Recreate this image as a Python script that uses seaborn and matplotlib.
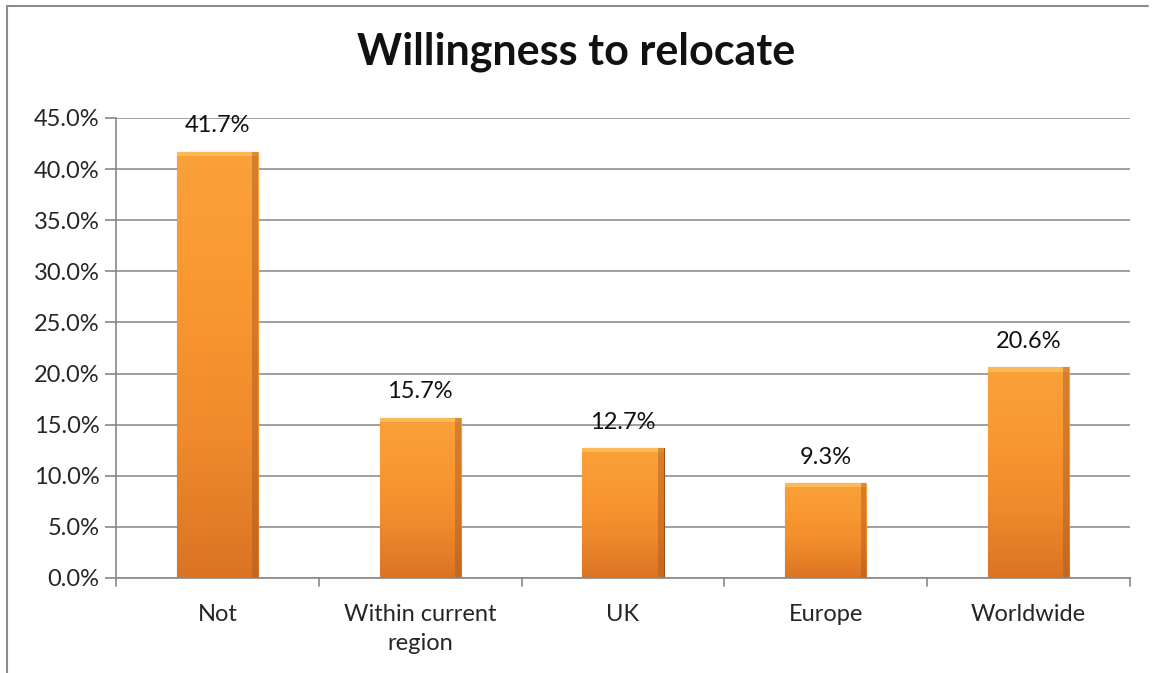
import numpy as np
import pandas as pd
import matplotlib.pyplot as plt
import seaborn as sns
from matplotlib.lines import Line2D
from matplotlib.colors import LinearSegmentedColormap

categories = ['Not', 'Within current\nregion', 'UK', 'Europe', 'Worldwide']
shares = [41.7, 15.7, 12.7, 9.3, 20.6]
y_ticks = [0, 5, 10, 15, 20, 25, 30, 35, 40, 45]

sns.set_style('white')
plt.rcParams['font.family'] = ['Lato', 'DejaVu Sans']

df = pd.DataFrame({'where': categories, 'share': shares})

fig = plt.figure(figsize=(11.52, 6.73), dpi=100)
ax = fig.add_axes([116 / 1152, 1 - 578 / 673, (1130 - 116) / 1152, (578 - 118) / 673])

sns.barplot(data=df, x='where', y='share', color='#F7952F', width=0.4, ax=ax,
            edgecolor='#9C4E16', linewidth=0.8)

# gradient fill like the Excel bevel bars
grad = LinearSegmentedColormap.from_list('og', ['#DA7424', '#F08A2C', '#F99831', '#FBA13A'])
g = np.linspace(0, 1, 256).reshape(-1, 1)
for p in ax.patches:
    x0, y0 = p.get_x(), p.get_y()
    w, h = p.get_width(), p.get_height()
    im = ax.imshow(g, cmap=grad, aspect='auto', origin='lower',
                   extent=[x0, x0 + w, y0, y0 + h], zorder=p.get_zorder() + 0.1)
    im.set_clip_path(p)
    # light top bevel and darker right edge
    ax.fill_between([x0, x0 + w], y0 + h - 0.4, y0 + h, color='#FDC060', alpha=0.8,
                    zorder=p.get_zorder() + 0.2, linewidth=0)
    ax.fill_between([x0 + w * 0.93, x0 + w], y0, y0 + h, color='#A8561C', alpha=0.45,
                    zorder=p.get_zorder() + 0.2, linewidth=0)
    ax.text(x0 + w / 2, y0 + h + 1.5, f'{h:.1f}%', ha='center', va='bottom',
            fontsize=17, color='#111111')

ax.set_xlim(-0.5, len(categories) - 0.5)
ax.set_ylim(0, 45)
ax.set_yticks(y_ticks)
ax.set_yticklabels([f'{v:.1f}%' for v in y_ticks], fontsize=17)
ax.set_xlabel('')
ax.set_ylabel('')
ax.tick_params(axis='x', labelsize=17, length=0, pad=19)
for lbl in ax.get_xticklabels():
    lbl.set_linespacing(1.45)
ax.tick_params(axis='y', length=8, color='#888888', width=1.2, direction='out', pad=4, left=True)
ax.yaxis.grid(True, color='#A0A0A0', linewidth=1.4)
ax.set_axisbelow(True)
for s in ['top', 'right']:
    ax.spines[s].set_visible(False)
for s in ['left', 'bottom']:
    ax.spines[s].set_color('#888888')
    ax.spines[s].set_linewidth(1.2)

# category boundary ticks below the x axis
for b in np.arange(-0.5, len(categories), 1.0):
    ax.plot([b, b], [0, -0.8], color='#888888', linewidth=1.2, clip_on=False)

fig.text(0.5, 1 - 52 / 673, 'Willingness to relocate', ha='center', va='center',
         fontsize=31, fontweight='bold', color='#111111')

# outer chart border (left and top visible)
fig.add_artist(Line2D([7 / 1152, 7 / 1152], [0, 1 - 6 / 673], color='#8C8C8C', linewidth=1.5))
fig.add_artist(Line2D([7 / 1152, 1148 / 1152], [1 - 6 / 673, 1 - 6 / 673], color='#8C8C8C', linewidth=1.5))

fig.savefig('out.png', dpi=100)
